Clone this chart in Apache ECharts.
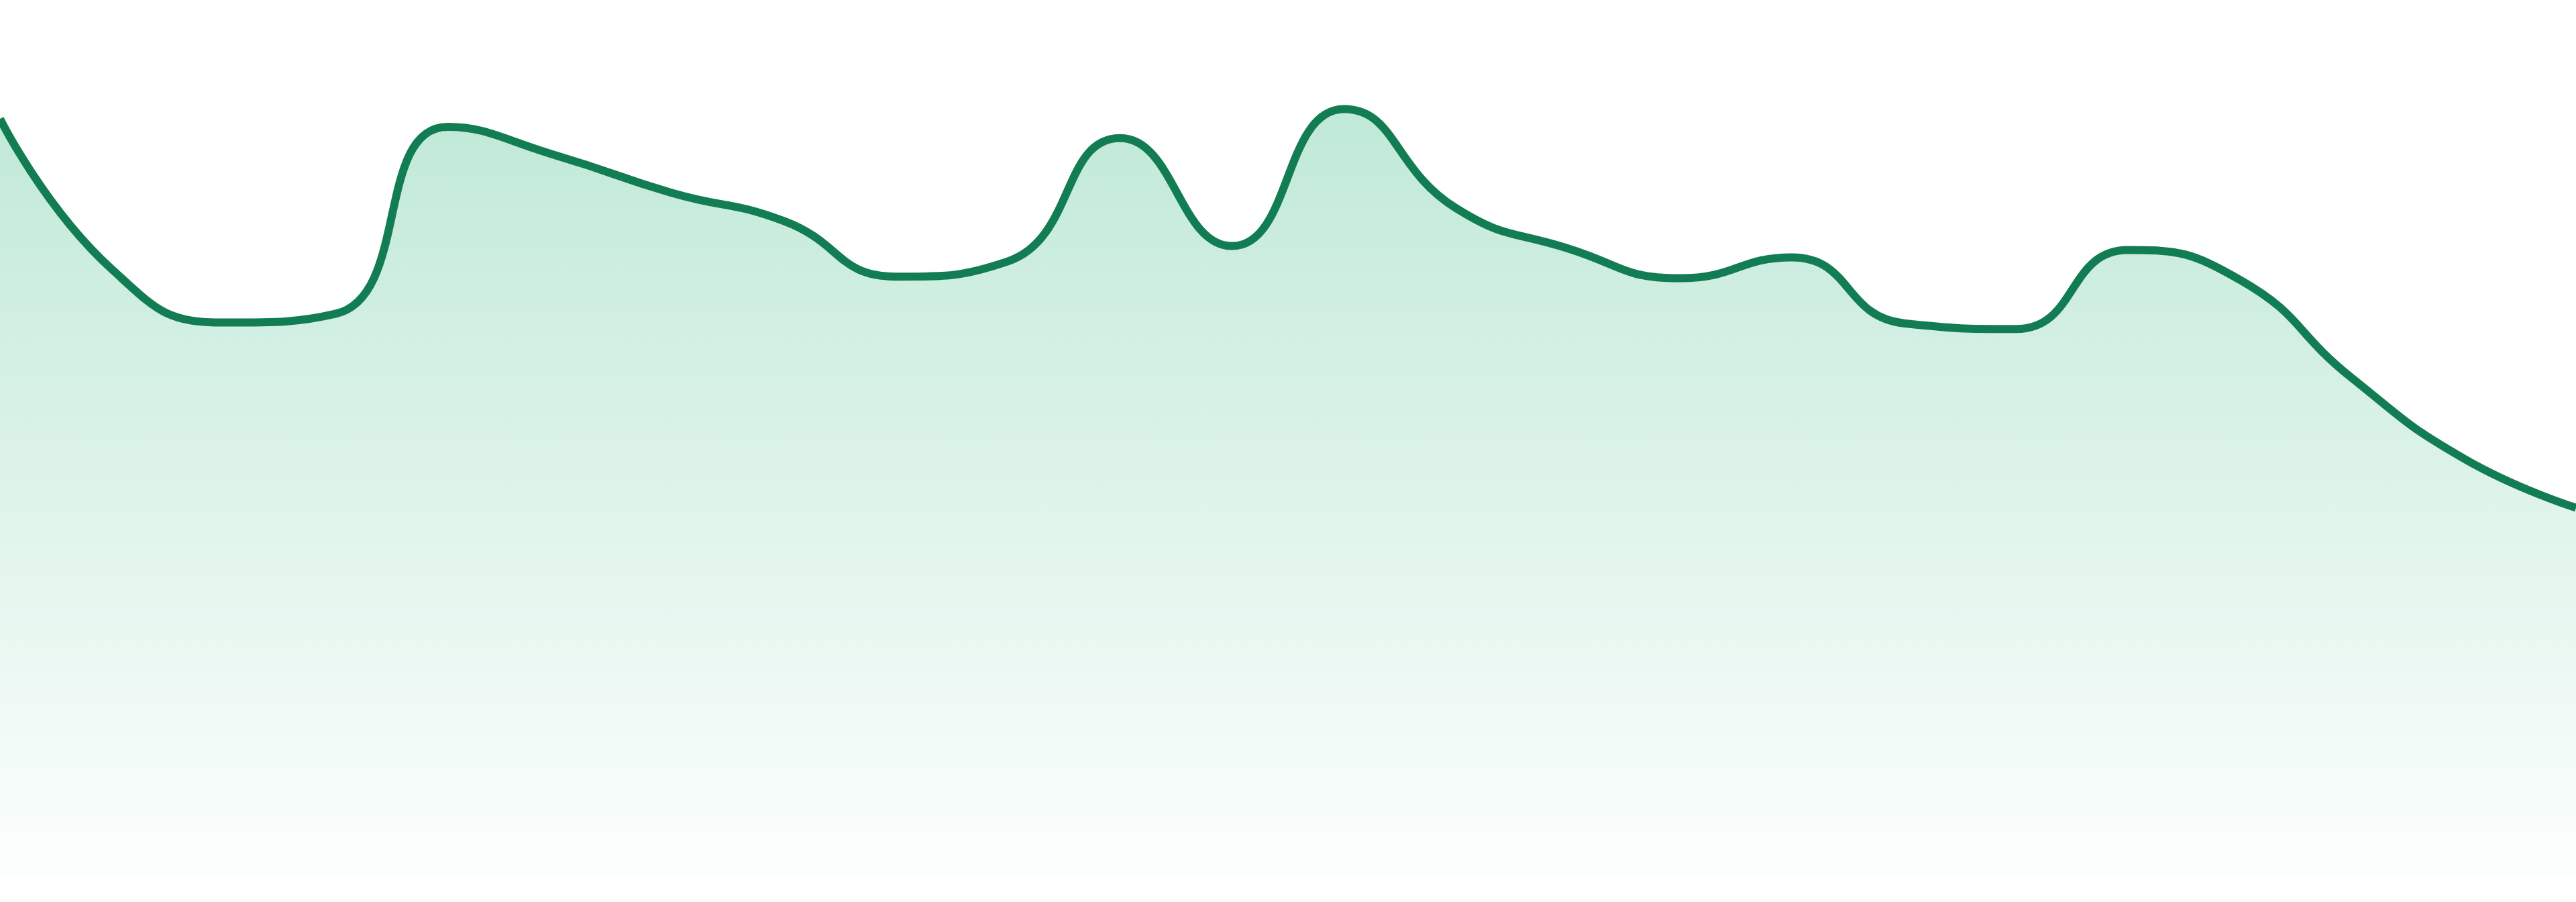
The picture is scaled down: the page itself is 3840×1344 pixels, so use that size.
<!DOCTYPE html>
<html>
<head>
<meta charset="utf-8">
<script src="https://cdn.jsdelivr.net/npm/echarts@6/dist/echarts.min.js"></script>
<style>
html,body{margin:0;padding:0;background:#ffffff;}
#chart{width:3840px;height:1344px;}
</style>
</head>
<body>
<div id="chart"></div>
<script>
const categories = ['1','2','3','4','5','6','7','8','9','10','11','12','13','14','15','16','17','18','19','20','21','22','23','24'];
const values = [94.0, 75.3, 68.7, 69.8, 93.0, 89.3, 84.8, 81.3, 74.4, 76.3, 91.6, 78.2, 95.2, 82.9, 77.9, 74.2, 76.8, 68.6, 67.9, 77.7, 74.0, 61.8, 51.8, 45.7];

const chart = echarts.init(document.getElementById('chart'), null, {renderer: 'canvas'});
chart.setOption({
  animation: false,
  grid: {left: 0, right: 0, top: 105, bottom: 39},
  xAxis: {
    type: 'category',
    data: categories,
    boundaryGap: false,
    show: false
  },
  yAxis: {
    type: 'value',
    min: 0,
    max: 100,
    show: false,
    splitLine: {show: false}
  },
  series: [{
    type: 'line',
    data: values,
    smooth: true,
    showSymbol: false,
    lineStyle: {color: '#127d52', width: 12},
    itemStyle: {color: '#127d52'},
    areaStyle: {
      color: new echarts.graphic.LinearGradient(0, 0, 0, 1, [
        {offset: 0, color: 'rgba(40, 180, 120, 0.42)'},
        {offset: 1, color: 'rgba(40, 180, 120, 0.02)'}
      ])
    }
  }]
});
</script>
</body>
</html>
